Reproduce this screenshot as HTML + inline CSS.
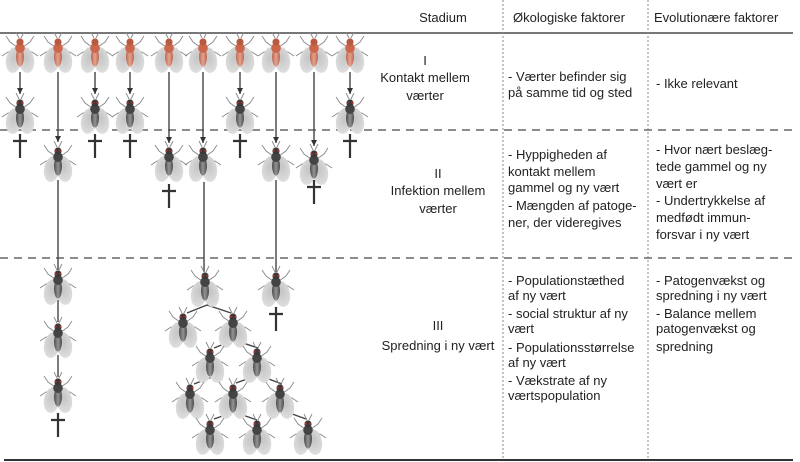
<!DOCTYPE html>
<html><head><meta charset="utf-8"><style>
html,body{margin:0;padding:0;background:#fff;}
svg{display:block;}
text{font-family:"Liberation Sans",sans-serif;font-size:13px;fill:#222;}
</style></head><body>
<svg width="800" height="462" viewBox="0 0 800 462" xmlns="http://www.w3.org/2000/svg">
<defs>
<radialGradient id="wg" cx="50%" cy="40%" r="60%"><stop offset="0" stop-color="#c4c4c4"/><stop offset="1" stop-color="#dedede"/></radialGradient>
<linearGradient id="bd" x1="0" x2="1"><stop offset="0" stop-color="#333"/><stop offset=".5" stop-color="#888"/><stop offset="1" stop-color="#333"/></linearGradient>
<linearGradient id="br" x1="0" x2="1"><stop offset="0" stop-color="#b8543c"/><stop offset=".5" stop-color="#e79a80"/><stop offset="1" stop-color="#b8543c"/></linearGradient>
<g id="legs" stroke="#888" stroke-width="0.9" fill="none">
<path d="M-1,-2 L-4,-8 M1,-2 L4,-8"/>
<path d="M-3,7 L-10,2 L-14,-4 M3,7 L10,2 L14,-4"/>
<path d="M-3,10 L-12,12 L-18,16 M3,10 L12,12 L18,16"/>
<path d="M-3,13 L-9,20 L-12,28 M3,13 L9,20 L12,28"/>
</g>
<g id="wings"><ellipse cx="-6" cy="20" rx="8" ry="13" fill="url(#wg)" transform="rotate(10 -6 20)"/><ellipse cx="6" cy="20" rx="8" ry="13" fill="url(#wg)" transform="rotate(-10 6 20)"/></g>
<g id="fd"><use href="#legs"/><use href="#wings"/><ellipse cx="0" cy="17" rx="4" ry="9.5" fill="url(#bd)" opacity=".85"/><ellipse cx="0" cy="8" rx="4.8" ry="5" fill="#444"/><circle cx="0" cy="2" r="3.6" fill="#3a3a3a"/><circle cx="-2.4" cy="1.6" r="1.1" fill="#a33"/><circle cx="2.4" cy="1.6" r="1.1" fill="#a33"/></g>
<g id="fr"><use href="#legs"/><use href="#wings"/><ellipse cx="0" cy="17" rx="4" ry="9.5" fill="url(#br)" opacity=".85"/><ellipse cx="0" cy="8" rx="4.8" ry="5" fill="#c9664c"/><circle cx="0" cy="2" r="3.6" fill="#b85a42"/></g>
<g id="cross" stroke="#333" stroke-width="2.2"><path d="M0,0 V24 M-7,7 H7"/></g>
<marker id="ar" markerWidth="8" markerHeight="8" refX="6" refY="3" orient="auto" markerUnits="userSpaceOnUse"><path d="M0,0 L6,3 L0,6 Z" fill="#333"/></marker>
</defs>

<line x1="0" y1="33" x2="793" y2="33" stroke="#777" stroke-width="2"/>
<line x1="4" y1="460" x2="793" y2="460" stroke="#333" stroke-width="2"/>
<line x1="0" y1="130" x2="793" y2="130" stroke="#666" stroke-width="1.5" stroke-dasharray="8,6"/>
<line x1="0" y1="258" x2="793" y2="258" stroke="#666" stroke-width="1.5" stroke-dasharray="8,6"/>
<line x1="503" y1="0" x2="503" y2="460" stroke="#888" stroke-width="1" stroke-dasharray="2,2"/>
<line x1="648" y1="0" x2="648" y2="460" stroke="#888" stroke-width="1" stroke-dasharray="2,2"/>

<text x="443" y="22" text-anchor="middle">Stadium</text>
<text x="513" y="22">Økologiske faktorer</text>
<text x="654" y="22">Evolutionære faktorer</text>

<text x="425" y="65" text-anchor="middle">I</text>
<text x="425" y="82" text-anchor="middle">Kontakt mellem</text>
<text x="425" y="100" text-anchor="middle">værter</text>
<text x="508" y="81">- Værter befinder sig</text>
<text x="508" y="97">på samme tid og sted</text>
<text x="656" y="88">- Ikke relevant</text>

<text x="438" y="178" text-anchor="middle">II</text>
<text x="438" y="195" text-anchor="middle">Infektion mellem</text>
<text x="438" y="213" text-anchor="middle">værter</text>
<text x="508" y="159">- Hyppigheden af</text>
<text x="508" y="176">kontakt mellem</text>
<text x="508" y="192">gammel og ny vært</text>
<text x="508" y="210">- Mængden af patoge-</text>
<text x="508" y="227">ner, der videregives</text>
<text x="656" y="154">- Hvor nært beslæg-</text>
<text x="656" y="171">tede gammel og ny</text>
<text x="656" y="188">vært er</text>
<text x="656" y="205">- Undertrykkelse af</text>
<text x="656" y="222">medfødt immun-</text>
<text x="656" y="239">forsvar i ny vært</text>

<text x="438" y="330" text-anchor="middle">III</text>
<text x="438" y="350" text-anchor="middle">Spredning i ny vært</text>
<text x="508" y="285">- Populationstæthed</text>
<text x="508" y="300">af ny vært</text>
<text x="508" y="318">- social struktur af ny</text>
<text x="508" y="333">vært</text>
<text x="508" y="352">- Populationsstørrelse</text>
<text x="508" y="367">af ny vært</text>
<text x="508" y="385">- Vækstrate af ny</text>
<text x="508" y="400">værtspopulation</text>
<text x="656" y="285">- Patogenvækst og</text>
<text x="656" y="300">spredning i ny vært</text>
<text x="656" y="318">- Balance mellem</text>
<text x="656" y="333">patogenvækst og</text>
<text x="656" y="351">spredning</text>

<g stroke="#444" stroke-width="1.4" fill="none">
<line x1="20" y1="72" x2="20" y2="94" marker-end="url(#ar)"/>
<line x1="95" y1="72" x2="95" y2="94" marker-end="url(#ar)"/>
<line x1="130" y1="72" x2="130" y2="94" marker-end="url(#ar)"/>
<line x1="240" y1="72" x2="240" y2="94" marker-end="url(#ar)"/>
<line x1="350" y1="72" x2="350" y2="94" marker-end="url(#ar)"/>
<line x1="58" y1="72" x2="58" y2="142" marker-end="url(#ar)"/>
<line x1="169" y1="72" x2="169" y2="143" marker-end="url(#ar)"/>
<line x1="203" y1="72" x2="203" y2="143" marker-end="url(#ar)"/>
<line x1="276" y1="72" x2="276" y2="143" marker-end="url(#ar)"/>
<line x1="314" y1="72" x2="314" y2="146" marker-end="url(#ar)"/>
<line x1="58" y1="180" x2="58" y2="270"/>
<line x1="58" y1="300" x2="58" y2="322"/>
<line x1="58" y1="355" x2="58" y2="377"/>
<line x1="204" y1="182" x2="204" y2="272"/>
<line x1="276" y1="180" x2="276" y2="272"/>
<path d="M187,313 L207,305 L231,313"/>
<path d="M214,348 L234,340 L258,348"/>
<path d="M194,384 L212,377"/>
<path d="M236,383 L258,375 L282,384"/>
<path d="M214,419 L234,412 L257,420"/>
<path d="M284,411 L306,419"/>
</g>

<use href="#fr" x="20" y="40"/><use href="#fr" x="58" y="40"/><use href="#fr" x="95" y="40"/><use href="#fr" x="130" y="40"/><use href="#fr" x="169" y="40"/><use href="#fr" x="203" y="40"/><use href="#fr" x="240" y="40"/><use href="#fr" x="276" y="40"/><use href="#fr" x="314" y="40"/><use href="#fr" x="350" y="40"/>
<use href="#fd" x="20" y="101"/><use href="#fd" x="95" y="101"/><use href="#fd" x="130" y="101"/><use href="#fd" x="240" y="101"/><use href="#fd" x="350" y="101"/>
<use href="#cross" x="20" y="134"/><use href="#cross" x="95" y="134"/><use href="#cross" x="130" y="134"/><use href="#cross" x="240" y="134"/><use href="#cross" x="350" y="134"/>
<use href="#fd" x="58" y="149"/><use href="#fd" x="169" y="149"/><use href="#fd" x="203" y="149"/><use href="#fd" x="276" y="149"/><use href="#fd" x="314" y="152"/>
<use href="#cross" x="169" y="184"/><use href="#cross" x="314" y="180"/>
<use href="#fd" x="58" y="272"/><use href="#fd" x="58" y="325"/><use href="#fd" x="58" y="380"/>
<use href="#cross" x="58" y="413"/>
<use href="#fd" x="205" y="274"/><use href="#fd" x="276" y="274"/>
<use href="#cross" x="276" y="307"/>
<use href="#fd" x="183" y="315"/><use href="#fd" x="233" y="315"/>
<use href="#fd" x="210" y="350"/><use href="#fd" x="257" y="350"/>
<use href="#fd" x="190" y="386"/><use href="#fd" x="233" y="386"/><use href="#fd" x="280" y="386"/>
<use href="#fd" x="210" y="422"/><use href="#fd" x="257" y="422"/><use href="#fd" x="308" y="422"/>
</svg>
</body></html>
